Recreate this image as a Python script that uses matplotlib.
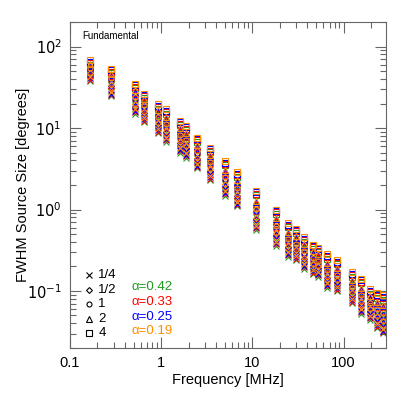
import matplotlib
matplotlib.use("Agg")
import matplotlib.pyplot as plt
from matplotlib.ticker import LogLocator, NullFormatter, FixedLocator, FixedFormatter

plt.rcParams['font.family'] = ['Liberation Sans', 'DejaVu Sans']

# frequency columns [MHz]
freq = [0.165, 0.28, 0.51, 0.65, 0.93, 1.13, 1.61, 1.87, 2.46, 3.41, 4.96, 6.7, 11.0,
        18.2, 24.6, 30.1, 36.7, 46.0, 52.1, 65.3, 83.9, 122, 153, 196, 234, 268]

# FWHM source size [degrees] for each density factor
size_q = [40, 26, 16, 12.5, 9.2, 7.2, 5.3, 4.6, 3.4, 2.45, 1.57, 1.16, 0.6,
          0.38, 0.28, 0.255, 0.2, 0.17, 0.16, 0.117, 0.106, 0.075, 0.056, 0.047, 0.037, 0.032]
size_h = [45, 32, 18.5, 14.8, 10.8, 8.8, 6.4, 5.6, 4.1, 2.95, 1.92, 1.42, 0.75,
          0.48, 0.34, 0.30, 0.24, 0.2, 0.19, 0.14, 0.127, 0.09, 0.069, 0.056, 0.046, 0.04]
size_1 = [51, 39, 22.5, 17.9, 13.0, 10.6, 7.8, 6.8, 4.9, 3.6, 2.35, 1.74, 0.95,
          0.59, 0.41, 0.36, 0.29, 0.24, 0.22, 0.17, 0.15, 0.107, 0.084, 0.067, 0.056, 0.05]
size_2 = [57, 44, 27.5, 21.5, 15.5, 12.9, 9.5, 8.2, 5.9, 4.4, 2.9, 2.15, 1.2,
          0.74, 0.5, 0.44, 0.36, 0.29, 0.27, 0.21, 0.18, 0.13, 0.104, 0.081, 0.07, 0.064]
size_4 = [64, 50, 33, 25, 18.4, 16, 11.5, 10.0, 7.2, 5.4, 3.7, 2.7, 1.6,
          0.94, 0.64, 0.55, 0.43, 0.35, 0.32, 0.265, 0.225, 0.16, 0.132, 0.099, 0.088, 0.083]

factor_labels = ['1/4', '1/2', '1', '2', '4']
factor_markers = ['x', 'D', 'o', '^', 's']
factor_sizes = [3.8, 3.0, 3.6, 3.8, 3.8]

alphas = ['0.42', '0.33', '0.25', '0.19']
alpha_colors = ['#229922', '#ff0000', '#0000ff', '#ff8c00']
alpha_scale = [0.94, 0.98, 1.02, 1.06]

sizes = [size_q, size_h, size_1, size_2, size_4]

fig = plt.figure(figsize=(4.07, 3.94), dpi=100)
ax = fig.add_axes([0.172, 0.117, 0.776, 0.827])

for a, col, sc in zip(alphas, alpha_colors, alpha_scale):
    for vals, m, ms in zip(sizes, factor_markers, factor_sizes):
        ax.plot(freq, [v * sc for v in vals], linestyle='none', marker=m, ms=ms,
                mfc='none', mec=col, mew=0.8, clip_on=True)

ax.set_xscale('log')
ax.set_yscale('log')
ax.set_xlim(0.1, 290)
ax.set_ylim(0.02, 200)

ax.xaxis.set_major_locator(FixedLocator([0.1, 1, 10, 100]))
ax.xaxis.set_major_formatter(FixedFormatter(['0.1', '1', '10', '100']))
ax.xaxis.set_minor_locator(LogLocator(base=10, subs=range(2, 10), numticks=20))
ax.xaxis.set_minor_formatter(NullFormatter())
ax.yaxis.set_major_locator(FixedLocator([0.1, 1, 10, 100]))
ax.yaxis.set_major_formatter(FixedFormatter([r'$10^{-1}$', r'$10^{0}$', r'$10^{1}$', r'$10^{2}$']))
ax.yaxis.set_minor_locator(LogLocator(base=10, subs=range(2, 10), numticks=20))
ax.yaxis.set_minor_formatter(NullFormatter())

ax.tick_params(which='both', direction='in', top=True, right=True, color='0.4', width=0.8)
ax.tick_params(which='major', length=8, labelsize=10.5, pad=6)
ax.tick_params(which='minor', length=4)
for sp in ax.spines.values():
    sp.set_color('0.4')
    sp.set_linewidth(0.8)

ax.set_xlabel('Frequency [MHz]', fontsize=10.5, labelpad=2)
ax.set_ylabel('FWHM Source Size [degrees]', fontsize=10.5, labelpad=-2)

ax.text(0.038, 0.957, 'Fundamental', transform=ax.transAxes, fontsize=7, va='center')

leg_y = [0.224, 0.178, 0.135, 0.090, 0.045]
for y, lab, m, ms in zip(leg_y, factor_labels, factor_markers, factor_sizes):
    ax.plot([0.06], [y], transform=ax.transAxes, marker=m, ms=ms, mfc='none',
            mec='black', mew=0.8, linestyle='none')
    ax.text(0.09, y, lab, transform=ax.transAxes, fontsize=9.5, va='center')

alpha_y = [0.187, 0.141, 0.096, 0.052]
for y, a, col in zip(alpha_y, alphas, alpha_colors):
    ax.text(0.196, y, '\u03b1=' + a, transform=ax.transAxes, fontsize=9.5, va='center', color=col)

fig.savefig('out.png', dpi=100)
